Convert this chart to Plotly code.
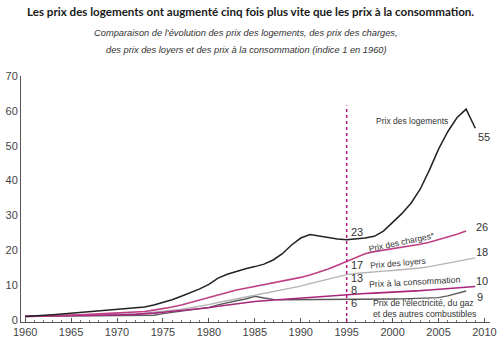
import plotly.graph_objects as go

years = list(range(1960, 2010))
logements = [1, 1.1, 1.3, 1.5, 1.7, 1.9, 2.2, 2.4, 2.6, 2.8,
             3.0, 3.2, 3.4, 3.7, 4.3, 5.0, 5.8, 6.8, 7.8, 8.9,
             10.2, 12.0, 13.1, 14.0, 14.7, 15.3, 16.0, 17.2, 19.0, 21.5,
             23.5, 24.5, 24.0, 23.5, 23.2, 23.0, 23.2, 23.5, 24.0, 25.5,
             28.0, 30.5, 33.5, 37.5, 43.0, 49.0, 54.0, 58.0, 60.5, 55.0]
charges = [1, 1.05, 1.1, 1.2, 1.3, 1.4, 1.5, 1.6, 1.7, 1.8,
           1.9, 2.0, 2.2, 2.4, 2.8, 3.2, 3.7, 4.3, 5.0, 5.8,
           6.6, 7.3, 8.0, 8.6, 9.1, 9.6, 10.1, 10.6, 11.1, 11.6,
           12.2, 12.9, 13.7, 14.6, 15.7, 16.8, 18.0, 19.0, 19.6, 20.0,
           20.4, 20.8, 21.2, 21.7, 22.3, 23.0, 23.8, 24.6, 25.5]
loyers = [1, 1.05, 1.1, 1.15, 1.2, 1.3, 1.35, 1.4, 1.5, 1.55,
          1.6, 1.7, 1.8, 1.95, 2.2, 2.5, 2.8, 3.1, 3.5, 3.9,
          4.4, 5.0, 5.5, 6.0, 6.5, 7.0, 7.5, 8.0, 8.5, 9.1,
          9.7, 10.4, 11.0, 11.8, 12.4, 13.0, 13.3, 13.6, 13.8, 14.0,
          14.2, 14.4, 14.6, 14.9, 15.3, 15.8, 16.3, 16.8, 17.3, 17.8]
consommation = [1, 1.03, 1.06, 1.1, 1.14, 1.18, 1.22, 1.26, 1.31, 1.36,
                1.42, 1.5, 1.6, 1.72, 1.95, 2.2, 2.45, 2.7, 2.95, 3.15,
                3.5, 3.9, 4.3, 4.7, 5.0, 5.3, 5.5, 5.7, 5.9, 6.1,
                6.3, 6.5, 6.7, 6.9, 7.1, 7.4, 7.5, 7.6, 7.7, 7.8,
                7.95, 8.1, 8.25, 8.4, 8.6, 8.8, 9.0, 9.2, 9.4, 9.6]
electricite = [1, 1.02, 1.04, 1.06, 1.08, 1.1, 1.12, 1.14, 1.16, 1.18,
               1.2, 1.22, 1.25, 1.28, 1.35, 1.8, 2.2, 2.6, 3.0, 3.3,
               3.6, 4.3, 5.0, 5.5, 6.0, 6.8, 6.3, 5.9, 5.8, 5.8,
               5.8, 5.8, 5.8, 5.8, 5.85, 5.9, 5.9, 5.95, 6.0, 6.0,
               6.0, 6.05, 6.1, 6.15, 6.2, 6.4, 6.9, 7.5, 8.3]

xticks = [1960, 1965, 1970, 1975, 1980, 1985, 1990, 1995, 2000, 2005, 2010]
yticks = [0, 10, 20, 30, 40, 50, 60, 70]

narrow = "Liberation Sans Narrow, Arial Narrow, sans-serif"
sans = "Liberation Sans, Arial, sans-serif"

fig = go.Figure()
fig.add_trace(go.Scatter(x=years[:len(electricite)], y=electricite, mode="lines",
                         line=dict(color="#5a5a5a", width=1.4)))
fig.add_trace(go.Scatter(x=years[:len(loyers)], y=loyers, mode="lines",
                         line=dict(color="#b4b4b4", width=1.4)))
fig.add_trace(go.Scatter(x=years[:len(consommation)], y=consommation, mode="lines",
                         line=dict(color="#a8267c", width=1.6)))
fig.add_trace(go.Scatter(x=years[:len(charges)], y=charges, mode="lines",
                         line=dict(color="#bf3f86", width=1.6)))
fig.add_trace(go.Scatter(x=years[:len(logements)], y=logements, mode="lines",
                         line=dict(color="#222222", width=1.5)))

fig.add_shape(type="line", xref="x", yref="y", x0=1995, x1=1995, y0=-0.6, y1=61.5,
              line=dict(color="#b0187f", width=1.5, dash="dot"))

def ann(text, x, y, size=8.5, family=narrow, angle=0, xanchor="center", align="center"):
    fig.add_annotation(text=text, x=x, y=y, xref="x", yref="y", showarrow=False,
                       font=dict(family=family, size=size, color="#333333"),
                       textangle=angle, xanchor=xanchor, yanchor="middle", align=align)

ann("Prix des logements", 2002.1, 57.2)
ann("55", 2009.95, 52.6, size=11, family=sans)
ann("23", 1995.2, 25.3, size=11, family=sans, xanchor="left")
ann("17", 1995.2, 15.8, size=11, family=sans, xanchor="left")
ann("13", 1995.2, 12.0, size=11, family=sans, xanchor="left")
ann("8", 1995.2, 8.7, size=11, family=sans, xanchor="left")
ann("6", 1995.2, 4.9, size=11, family=sans, xanchor="left")
ann("26", 2009.7, 26.7, size=11, family=sans)
ann("18", 2009.7, 19.5, size=11, family=sans)
ann("10", 2009.7, 11.2, size=11, family=sans)
ann("9", 2009.5, 6.6, size=11, family=sans)
ann("Prix des charges*", 2001.0, 22.4, angle=-12)
ann("Prix des loyers", 2000.6, 16.4, angle=-5)
ann("Prix à la consommation", 2002.4, 11.0, angle=-3, size=8.8)
ann("Prix de l'électricité, du gaz<br>et des autres combustibles", 1997.6, 3.2,
    xanchor="left", align="left", size=8.7)

fig.add_annotation(text="<b>Les prix des logements ont augmenté cinq fois plus vite que les prix à la consommation.</b>",
                   xref="paper", yref="paper", x=(250 - 21) / 469, y=1.0 + (76 - 12) / 246,
                   showarrow=False, xanchor="center", yanchor="middle",
                   font=dict(family="Lato, sans-serif", size=11.6, color="#1a1a1a"))
fig.add_annotation(text="<i>Comparaison de l'évolution des prix des logements, des prix des charges,</i>",
                   xref="paper", yref="paper", x=(246 - 21) / 469, y=1.0 + (76 - 33) / 246,
                   showarrow=False, xanchor="center", yanchor="middle",
                   font=dict(family=sans, size=9.3, color="#333333"))
fig.add_annotation(text="<i>des prix des loyers et des prix à la consommation (indice 1 en 1960)</i>",
                   xref="paper", yref="paper", x=(246 - 21) / 469, y=1.0 + (76 - 50) / 246,
                   showarrow=False, xanchor="center", yanchor="middle",
                   font=dict(family=sans, size=9.3, color="#333333"))

fig.update_layout(
    width=500, height=342,
    margin=dict(l=21, r=10, t=76, b=20),
    paper_bgcolor="white", plot_bgcolor="white",
    showlegend=False,
    xaxis=dict(range=[1959.55, 2010.6], tickvals=xticks, showgrid=False, zeroline=False,
               automargin=False,
               showline=True, linecolor="#555555", linewidth=1,
               ticks="inside", ticklen=4, tickcolor="#555555",
               minor=dict(dtick=1, ticks="inside", ticklen=2, tickcolor="#777777"),
               tickfont=dict(family=sans, size=11, color="#444444")),
    yaxis=dict(range=[-0.6, 70], tickvals=yticks, showgrid=False, zeroline=False,
               automargin=False,
               showline=True, linecolor="#555555", linewidth=1, ticks="",
               tickfont=dict(family=sans, size=11, color="#444444")),
)

fig.write_html("out.html")
